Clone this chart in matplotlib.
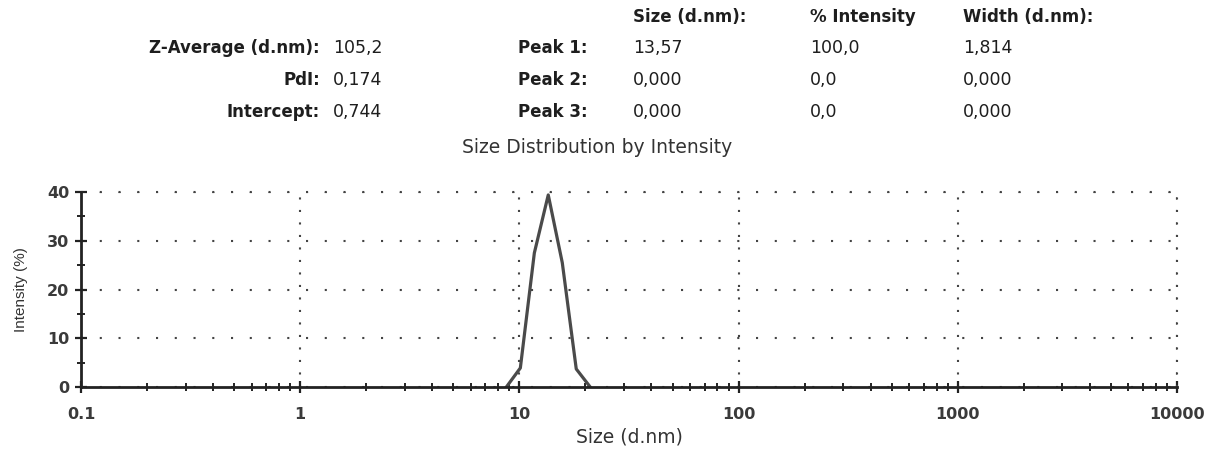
import numpy as np
import matplotlib.pyplot as plt
from matplotlib.ticker import LogLocator, FixedLocator, NullFormatter

plt.rcParams['font.family'] = ['DejaVu Sans']

# size distribution (Zetasizer bins)
sizes = [8.721, 10.10, 11.70, 13.54, 15.69, 18.17, 21.04]
intensity = [0.0, 3.9, 27.5, 39.4, 25.5, 3.7, 0.0]

# header table
left_labels = ['Z-Average (d.nm):', 'PdI:', 'Intercept:']
left_values = ['105,2', '0,174', '0,744']
peak_labels = ['Peak 1:', 'Peak 2:', 'Peak 3:']
col_heads = ['Size (d.nm):', '% Intensity', 'Width (d.nm):']
peak_size = ['13,57', '0,000', '0,000']
peak_int = ['100,0', '0,0', '0,0']
peak_width = ['1,814', '0,000', '0,000']

fig = plt.figure(figsize=(12.21, 4.49), dpi=100)
ax = fig.add_axes([81/1221, 1-387/449, (1177-81)/1221, (387-192)/449])

ax.plot(sizes, intensity, color='#4a4a4a', lw=2.3)
ax.set_xscale('log')
ax.set_xlim(0.1, 10000)
ax.set_ylim(0, 40)

ax.xaxis.set_major_locator(FixedLocator([0.1, 1, 10, 100, 1000, 10000]))
ax.xaxis.set_minor_locator(LogLocator(base=10, subs=np.arange(2, 10)))
ax.xaxis.set_minor_formatter(NullFormatter())
ax.set_xticklabels(['0.1', '1', '10', '100', '1000', '10000'])
ax.set_yticks([0, 10, 20, 30, 40])
ax.set_yticks([5, 15, 25, 35], minor=True)

for s in ['top', 'right']:
    ax.spines[s].set_visible(False)
for s in ['left', 'bottom']:
    ax.spines[s].set_linewidth(2)
    ax.spines[s].set_color('#222222')

ax.tick_params(axis='x', which='major', pad=10)
ax.tick_params(axis='y', which='major', pad=4)
ax.tick_params(axis='both', which='major', direction='inout', length=9, width=1.6,
               color='#222222', labelsize=11.5, labelcolor='#3a3a3a')
ax.tick_params(axis='both', which='minor', direction='inout', length=6, width=1.4,
               color='#222222')
for lab in ax.get_xticklabels() + ax.get_yticklabels():
    lab.set_fontweight('bold')

# dotted grid, including the top and right border
ax.xaxis.grid(True, which='major', linestyle=(0, (1, 5)), color='#444444', lw=1.5)
ax.yaxis.grid(True, which='major', linestyle=(0, (1, 8)), color='#444444', lw=1.5)
ax.set_axisbelow(True)
ax.axhline(40, linestyle=(0, (1, 8)), color='#444444', lw=1.5, clip_on=False)
ax.axvline(10000, linestyle=(0, (1, 5)), color='#444444', lw=1.5, clip_on=False)

ax.set_xlabel('Size (d.nm)', fontsize=13.5, color='#333333', va='center')
ax.xaxis.set_label_coords((629-81)/1096, -(437-387)/195)
ax.set_ylabel('Intensity (%)', fontsize=11, color='#333333', va='center',
              family=['Liberation Sans', 'DejaVu Sans'])
ax.yaxis.set_label_coords((21-81)/1096, (387-290)/195)


def px(x, y):
    return x/1221, 1-y/449


fig.text(*px(597, 148), 'Size Distribution by Intensity', ha='center', va='center',
         fontsize=13.5, color='#333333')

# header block
row_y = [48, 80, 112]
for lab, val, pk, a, b, c, y in zip(left_labels, left_values, peak_labels,
                                    peak_size, peak_int, peak_width, row_y):
    fig.text(*px(320, y), lab, ha='right', va='center', fontsize=12,
             fontweight='bold', color='#1e1e1e')
    fig.text(*px(333, y), val, ha='left', va='center', fontsize=12.5, color='#1e1e1e')
    fig.text(*px(588, y), pk, ha='right', va='center', fontsize=12,
             fontweight='bold', color='#1e1e1e')
    fig.text(*px(633, y), a, ha='left', va='center', fontsize=12.5, color='#1e1e1e')
    fig.text(*px(810, y), b, ha='left', va='center', fontsize=12.5, color='#1e1e1e')
    fig.text(*px(963, y), c, ha='left', va='center', fontsize=12.5, color='#1e1e1e')

for head, x in zip(col_heads, [633, 810, 963]):
    fig.text(*px(x, 17), head, ha='left', va='center', fontsize=12,
             fontweight='bold', color='#1e1e1e')

fig.savefig('out.png', dpi=100)
